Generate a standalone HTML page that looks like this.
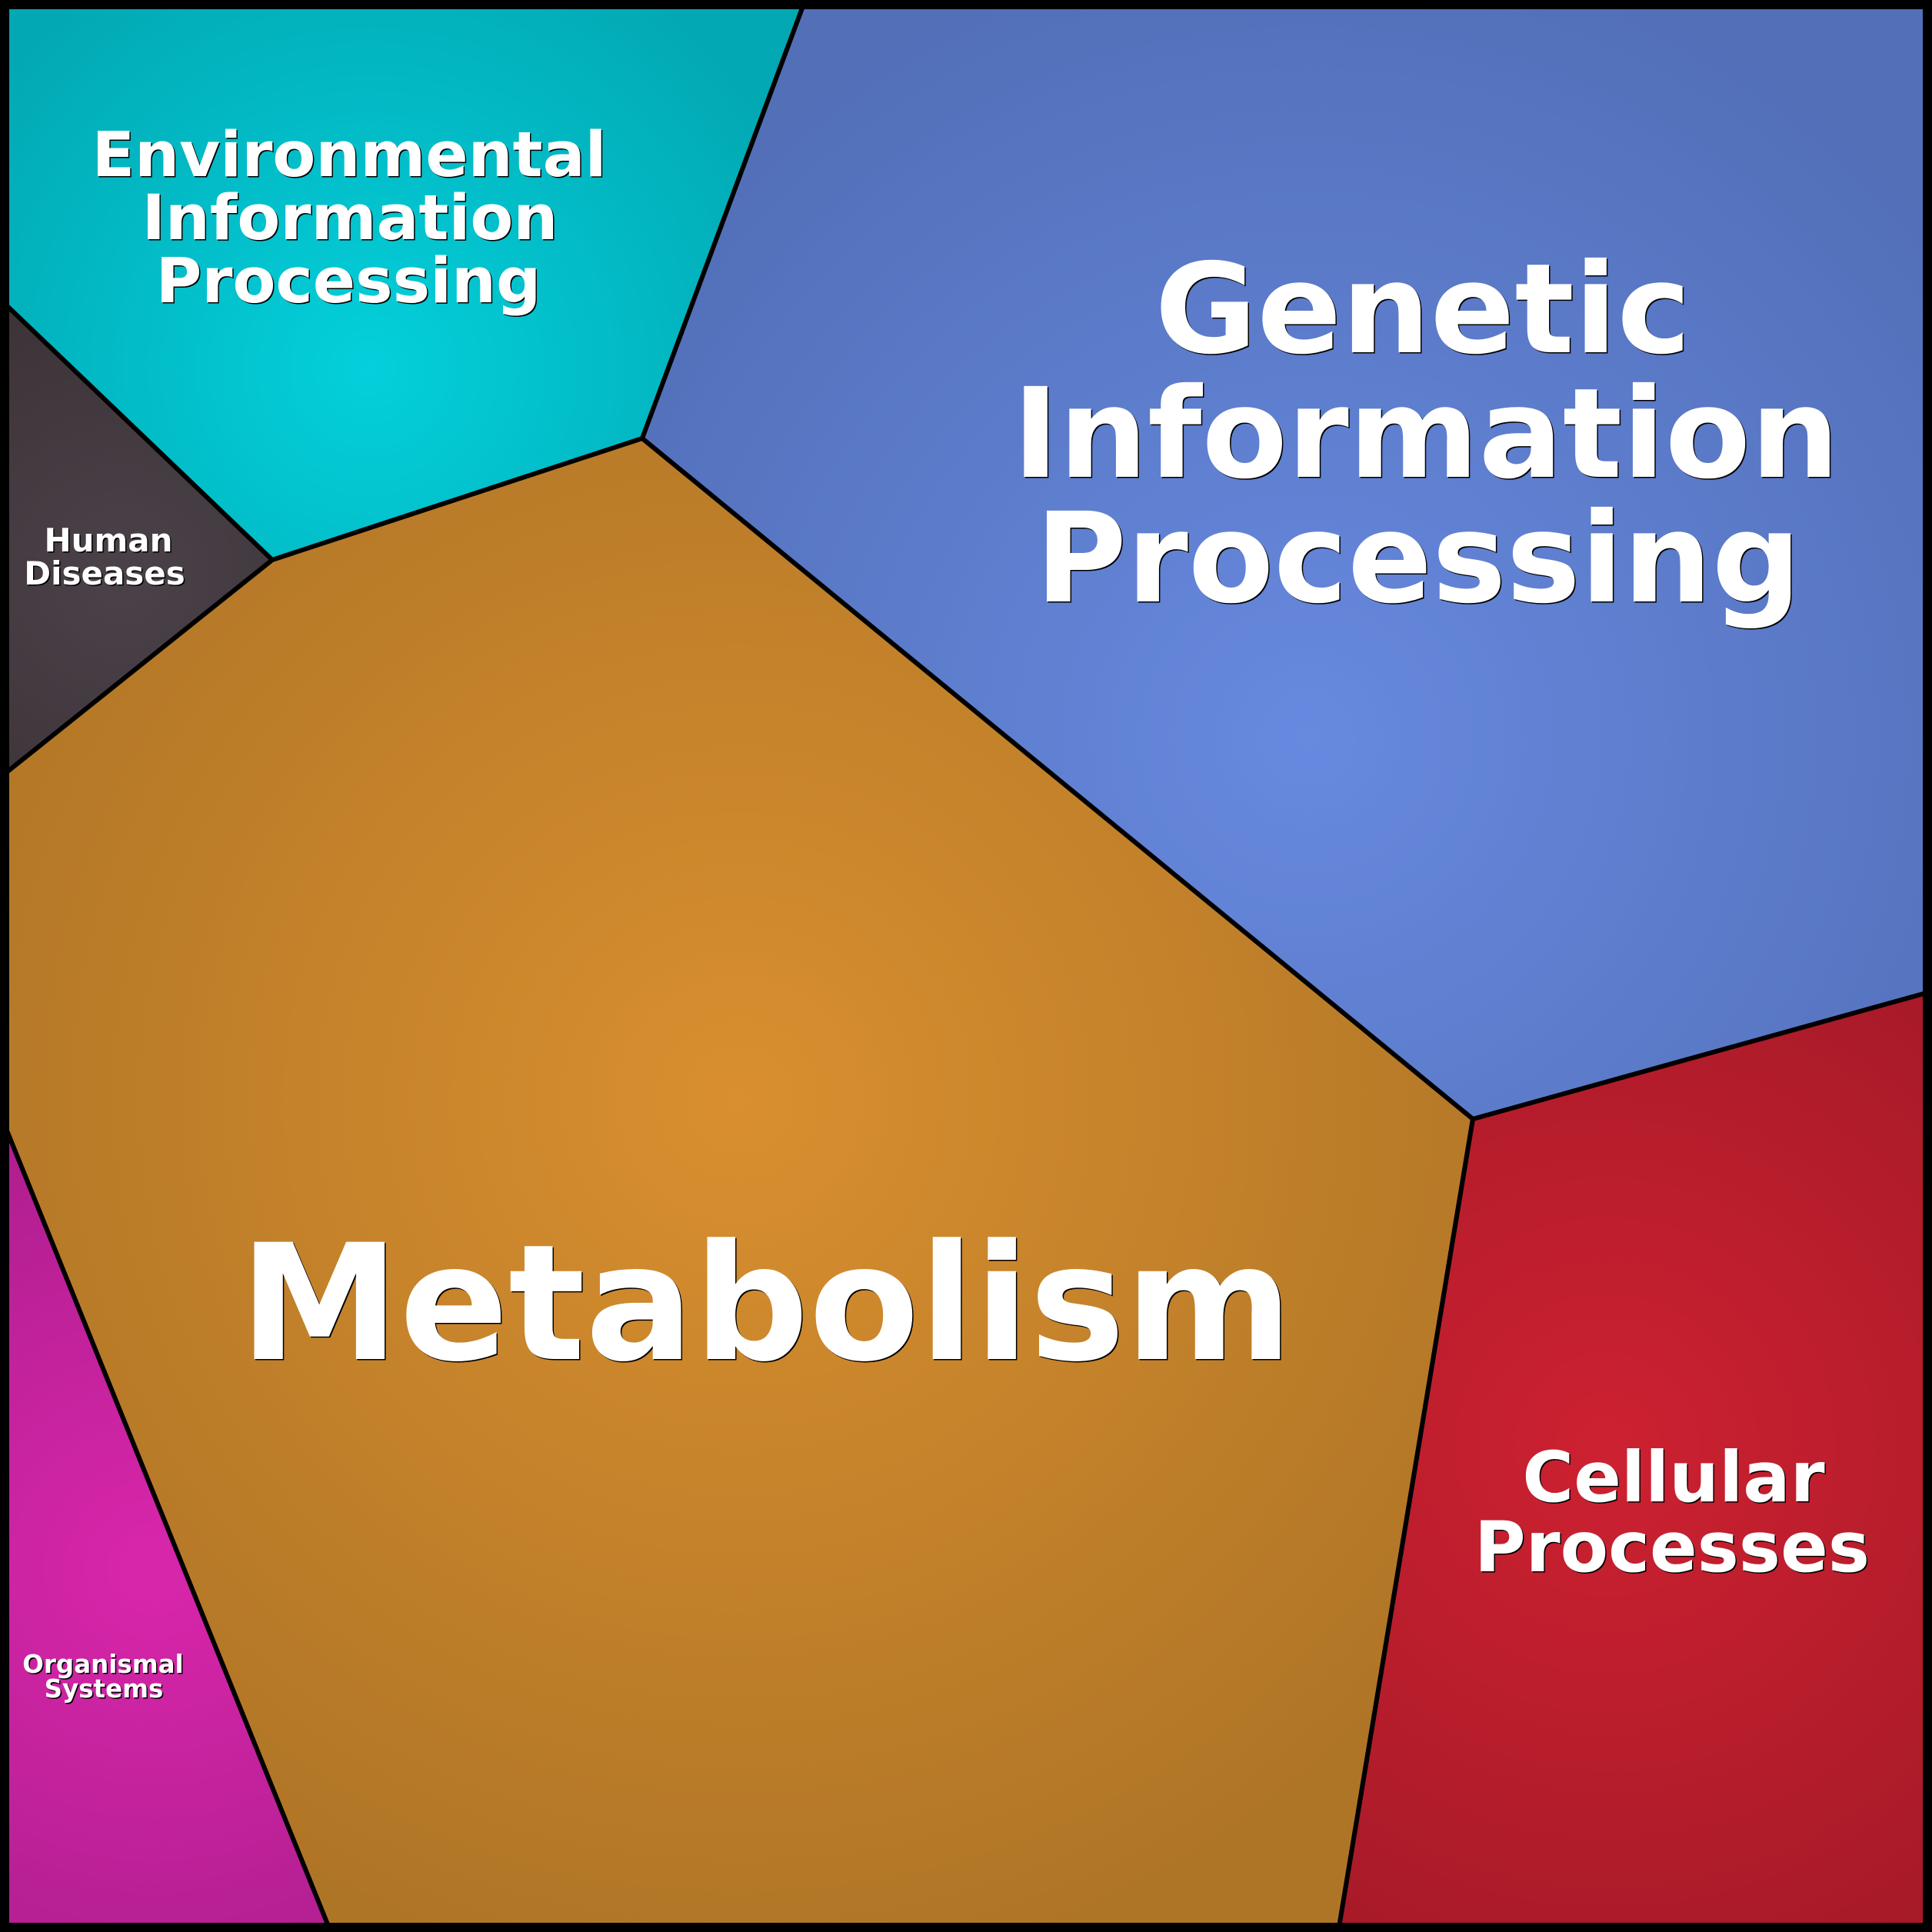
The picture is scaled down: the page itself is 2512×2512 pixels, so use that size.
<!DOCTYPE html>
<html>
<head>
<meta charset="utf-8">
<style>
  html, body { margin:0; padding:0; background:#000; }
  svg { display:block; }
  text { font-family: "DejaVu Sans", "Liberation Sans", sans-serif; font-weight: bold; text-anchor: middle; }
  .sh { fill:#000; }
  .fg { fill:#fff; }
</style>
</head>
<body>
<svg width="2512" height="2512" viewBox="0 0 2512 2512" xmlns="http://www.w3.org/2000/svg">
  <defs>
    <radialGradient id="gEnv" gradientUnits="userSpaceOnUse" cx="480" cy="480" r="620">
      <stop offset="0" stop-color="#03D0DB"/>
      <stop offset="1" stop-color="#02A8B3"/>
    </radialGradient>
    <radialGradient id="gGen" gradientUnits="userSpaceOnUse" cx="1700" cy="960" r="1050">
      <stop offset="0" stop-color="#6789DF"/>
      <stop offset="1" stop-color="#526FB8"/>
    </radialGradient>
    <radialGradient id="gMet" gradientUnits="userSpaceOnUse" cx="960" cy="1430" r="1150">
      <stop offset="0" stop-color="#D98F2F"/>
      <stop offset="1" stop-color="#AF7526"/>
    </radialGradient>
    <radialGradient id="gCel" gradientUnits="userSpaceOnUse" cx="2090" cy="1880" r="720">
      <stop offset="0" stop-color="#CD2131"/>
      <stop offset="1" stop-color="#A71A28"/>
    </radialGradient>
    <radialGradient id="gHum" gradientUnits="userSpaceOnUse" cx="160" cy="750" r="360">
      <stop offset="0" stop-color="#4B4149"/>
      <stop offset="1" stop-color="#3D3439"/>
    </radialGradient>
    <radialGradient id="gOrg" gradientUnits="userSpaceOnUse" cx="200" cy="2040" r="620">
      <stop offset="0" stop-color="#D926AB"/>
      <stop offset="1" stop-color="#AC1E8D"/>
    </radialGradient>
  </defs>

  <g stroke="#000" stroke-width="6" stroke-linejoin="miter">
    <polygon fill="url(#gEnv)" points="0,0 1047,0 835,570 354,728 0,389"/>
    <polygon fill="url(#gHum)" points="0,389 354,728 0,1011"/>
    <polygon fill="url(#gGen)" points="1047,0 2512,0 2512,1289 1915,1455 835,570"/>
    <polygon fill="url(#gMet)" points="0,1011 354,728 835,570 1915,1455 1740,2512 430,2512 0,1448"/>
    <polygon fill="url(#gCel)" points="1915,1455 2512,1289 2512,2512 1740,2512"/>
    <polygon fill="url(#gOrg)" points="0,1448 430,2512 0,2512"/>
  </g>

  <rect x="0" y="0" width="2512" height="2512" fill="none" stroke="#000" stroke-width="24"/>

  <!-- Environmental Information Processing -->
  <g font-size="81.5">
    <text class="sh" x="455.5" y="230.5">Environmental</text>
    <text class="sh" x="456.5" y="312.5">Information</text>
    <text class="sh" x="454.5" y="394.5">Processing</text>
    <text class="fg" x="454" y="229">Environmental</text>
    <text class="fg" x="455" y="311">Information</text>
    <text class="fg" x="453" y="393">Processing</text>
  </g>

  <!-- Genetic Information Processing -->
  <g font-size="162">
    <text class="sh" x="1851.5" y="459.5">Genetic</text>
    <text class="sh" x="1855.5" y="621.5">Information</text>
    <text class="sh" x="1845.5" y="783.5">Processing</text>
    <text class="fg" x="1850" y="458">Genetic</text>
    <text class="fg" x="1854" y="620">Information</text>
    <text class="fg" x="1844" y="782">Processing</text>
  </g>

  <!-- Metabolism -->
  <g font-size="209">
    <text class="sh" x="997.5" y="1768.5">Metabolism</text>
    <text class="fg" x="996" y="1767">Metabolism</text>
  </g>

  <!-- Cellular Processes -->
  <g font-size="91">
    <text class="sh" x="2177.5" y="1953.5">Cellular</text>
    <text class="sh" x="2175.5" y="2044.5">Processes</text>
    <text class="fg" x="2176" y="1952">Cellular</text>
    <text class="fg" x="2174" y="2043">Processes</text>
  </g>

  <!-- Human Diseases -->
  <g font-size="42">
    <text class="sh" x="142.5" y="718.5">Human</text>
    <text class="sh" x="137.5" y="761.5">Diseases</text>
    <text class="fg" x="141" y="717">Human</text>
    <text class="fg" x="136" y="760">Diseases</text>
  </g>

  <!-- Organismal Systems -->
  <g font-size="32.5">
    <text class="sh" x="135.5" y="2176.5">Organismal</text>
    <text class="sh" x="136.5" y="2208.5">Systems</text>
    <text class="fg" x="134" y="2175">Organismal</text>
    <text class="fg" x="135" y="2207">Systems</text>
  </g>
</svg>
</body>
</html>
